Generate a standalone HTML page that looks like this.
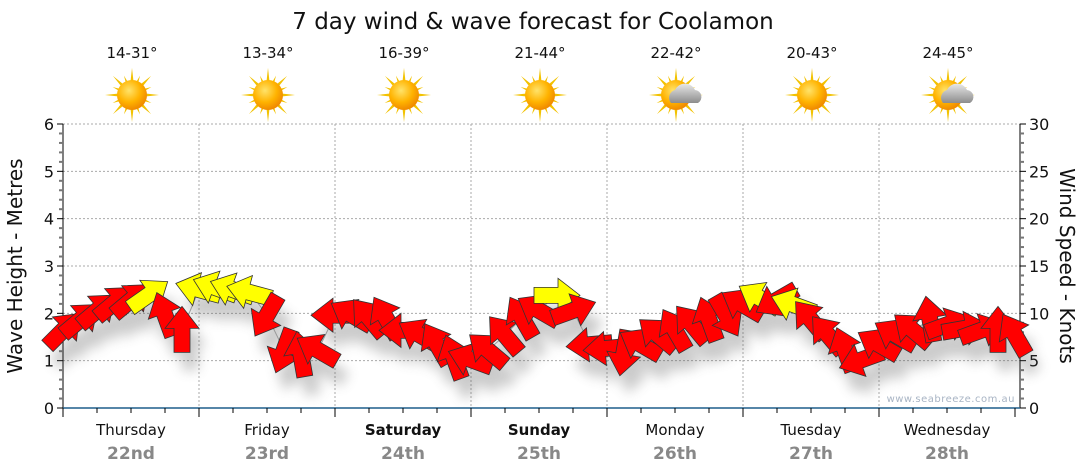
<!DOCTYPE html>
<html><head><meta charset="utf-8">
<style>
body{margin:0;background:#fff;}
svg{display:block;font-family:"DejaVu Sans","Liberation Sans",sans-serif;}
</style></head>
<body>
<svg id="chart" width="1080" height="475" viewBox="0 0 1080 475">
<defs>
<filter id="sh" x="-50%" y="-50%" width="200%" height="200%"><feGaussianBlur stdDeviation="6"/></filter>
<radialGradient id="sunG" cx="40%" cy="35%" r="65%"><stop offset="0" stop-color="#ffe36a"/><stop offset="0.6" stop-color="#ffb300"/><stop offset="1" stop-color="#f08a00"/></radialGradient>
<linearGradient id="cloudG" x1="0" y1="0" x2="0" y2="1"><stop offset="0" stop-color="#e8e8e8"/><stop offset="1" stop-color="#8d8d8d"/></linearGradient>
</defs>
<text x="533" y="29" font-size="23" text-anchor="middle" fill="#111">7 day wind &amp; wave forecast for Coolamon</text>
<g id="grid"></g>
<g id="axes"></g>
<g id="icons"></g>
<g id="shadows" filter="url(#sh)" opacity="0.3"></g>
<polyline id="conn" fill="none" stroke="#999" stroke-width="1"/>
<g id="arrows"></g>
<text x="1015" y="402" font-size="10" text-anchor="end" fill="#a8b4c4" letter-spacing="0.5">www.seabreeze.com.au</text>
<text transform="translate(22,266) rotate(-90)" font-size="20" text-anchor="middle" fill="#111">Wave Height - Metres</text>
<text transform="translate(1060,266) rotate(90)" font-size="20" text-anchor="middle" fill="#111">Wind Speed - Knots</text>
</svg>
<script>
const days=["Thursday","Friday","Saturday","Sunday","Monday","Tuesday","Wednesday"];
const dates=["22nd","23rd","24th","25th","26th","27th","28th"];
const boldDays=[false,false,true,true,false,false,false];
const temps=["14-31°","13-34°","16-39°","21-44°","22-42°","20-43°","24-45°"];
const cloudy=[false,false,false,false,true,false,true];
const leftTicks=[0,1,2,3,4,5,6];
const rightTicks=[0,5,10,15,20,25,30];
// wind per 3-hour step
const windKnots=[8.2,9.3,10.3,11.1,11.4,11.9,9.8,8.2, 12.5,12.7,12.5,12.2,9.8,6.1,5.6,6.1, 9.8,9.8,9.5,9.5,8.2,7.7,6.7,5.3, 5.1,6.1,7.7,9.5,10.3,11.9,10.3,6.7, 6.3,5.9,6.7,7.7,8.2,8.8,9.3,9.8, 10.9,11.6,11.4,10.9,9.3,7.7,6.1,5.1, 6.7,7.7,8.2,9.3,8.8,8.4,8.2,8.2,7.7];
const windDir=[-45,-40,-40,-40,-40,-35,-110,-90, -165,-160,-160,-165,120,110,-100,-150, 180,-150,-130,-120,180,-150,-120,-110, -160,-140,-130,-120,-150,0,-20,175, 175,100,-150,-140,-120,-130,-110,60, -150,-150,150,-160,-130,-130,-110,160, -150,-150,-140,-100,-20,-10,-20,-90,-120];
const windYellow=[0,0,0,0,0,1,0,0, 1,1,1,1,0,0,0,0, 0,0,0,0,0,0,0,0, 0,0,0,0,0,1,0,0, 0,0,0,0,0,0,0,0, 0,1,0,1,0,0,0,0, 0,0,0,0,0,0,0,0,0];

const NS="http://www.w3.org/2000/svg";
const X0=63,DAYW=136,Y0=408,YTOP=124;
const xOf=h=>X0+h*DAYW/24;
const yM=m=>Y0-m*(Y0-YTOP)/6;
const yK=k=>Y0-k*(Y0-YTOP)/30;
function mk(tag,attrs,parent){const e=document.createElementNS(NS,tag);for(const k in attrs)e.setAttribute(k,attrs[k]);parent.appendChild(e);return e;}
const grid=document.getElementById('grid'),axes=document.getElementById('axes'),icons=document.getElementById('icons');
const XR=1020;
leftTicks.forEach(v=>{if(v>0){const l=mk('line',{x1:X0,x2:XR,y1:yM(v),y2:yM(v),stroke:'#aaa','stroke-dasharray':'2,2'},grid);

}});
for(let d=1;d<7;d++){const l=mk('line',{x1:xOf(d*24),x2:xOf(d*24),y1:YTOP,y2:Y0,stroke:'#aaa','stroke-dasharray':'2,2'},grid);

}
mk('line',{x1:X0,x2:X0,y1:YTOP,y2:Y0,stroke:'#000'},axes);
mk('line',{x1:XR,x2:XR,y1:YTOP,y2:Y0,stroke:'#000'},axes);
const xa=mk('line',{x1:X0,x2:XR,y1:Y0,y2:Y0,stroke:'#1f5f8b','stroke-width':1.5},axes);


for(let i=0;i<=30;i++){const y=Y0-i*(Y0-YTOP)/30;const maj=i%5==0;
mk('line',{x1:X0-(maj?6:4),x2:X0,y1:y,y2:y,stroke:maj?'#000':'#777','stroke-width':maj?1:2},axes);
mk('line',{x1:XR,x2:XR+(maj?6:4),y1:y,y2:y,stroke:maj?'#000':'#777','stroke-width':maj?1:2},axes);}
leftTicks.forEach(v=>{const t=mk('text',{x:X0-9,y:yM(v)+6,'font-size':16,'text-anchor':'end',fill:'#111'},axes);t.textContent=v;

});
rightTicks.forEach(v=>{const t=mk('text',{x:XR+9,y:yK(v)+6,'font-size':16,fill:'#111'},axes);t.textContent=v;

});
for(let h=0;h<=168;h+=6){const maj=h%24==0;mk('line',{x1:xOf(h),x2:xOf(h),y1:Y0,y2:Y0+(maj?9:5),stroke:'#000'},axes);}
days.forEach((d,i)=>{const cx=xOf(i*24+12);
const t=mk('text',{x:cx,y:435,'font-size':15,'text-anchor':'middle',fill:'#111','font-weight':boldDays[i]?'bold':'normal'},axes);t.textContent=d;


const t2=mk('text',{x:cx,y:459,'font-size':17,'text-anchor':'middle',fill:'#888','font-weight':'bold'},axes);t2.textContent=dates[i];


const t3=mk('text',{x:cx+1,y:58,'font-size':15,'text-anchor':'middle',fill:'#111'},icons);t3.textContent=temps[i];


const g=mk('g',{transform:`translate(${cx+1},95)`},icons);


for(let r=0;r<16;r++){const a=r*22.5,L=r%2?21:27;mk('polygon',{points:`-3,0 3,0 0,-${L}`,fill:'#f2c200',transform:`rotate(${a})`},g);}
mk('circle',{r:15,fill:'url(#sunG)'},g);
if(cloudy[i]){mk('path',{d:'M-2,14 a8,8 0 0 1 4,-13 a11,11 0 0 1 20,0 a7,7 0 0 1 3,13 z',fill:'url(#cloudG)',transform:'translate(-3,-6)'},g);}
});
const arrG=document.getElementById('arrows'),shG=document.getElementById('shadows');
const pts=[];
const shape="-22,-8 2,-8 2,-17 24,0 2,17 2,8 -22,8";
windKnots.forEach((k,i)=>{const x=xOf(i*3),y=yK(k);pts.push(x+','+y);
mk('polygon',{points:shape,fill:'#555',transform:`translate(${x+8},${y+18}) rotate(${windDir[i]})`},shG);});
document.getElementById('conn').setAttribute('points',pts.join(' '));
windKnots.forEach((k,i)=>{const x=xOf(i*3),y=yK(k);
const p=mk('polygon',{points:shape,fill:windYellow[i]?'#ffff00':'#ff0000',stroke:'#333','stroke-width':0.8,transform:`translate(${x},${y}) rotate(${windDir[i]})`},arrG);

});
</script>
</body></html>
